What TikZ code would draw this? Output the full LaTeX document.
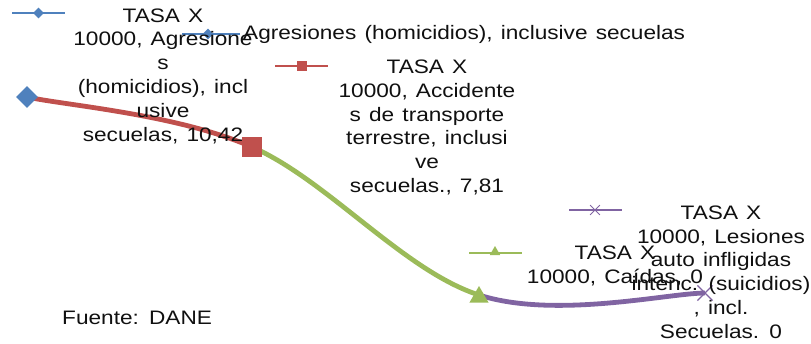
\documentclass[tikz,border=0pt]{standalone}
\usepackage{fontspec}
\setmainfont{Liberation Sans}[FakeStretch=1.16,WordSpace=1.3]
\usepackage{xcolor}
\usetikzlibrary{positioning,shapes.geometric,shapes.misc}
\definecolor{serA}{HTML}{4F81BD}
\definecolor{serB}{HTML}{C0504D}
\definecolor{serC}{HTML}{9BBB59}
\definecolor{serD}{HTML}{8064A2}
\definecolor{lbltext}{HTML}{101010}

\begin{document}
\begin{tikzpicture}[x=1pt,y=-1pt]
\tikzstyle{every node}+=[inner sep=0pt]
\tikzset{
  lbl/.style={align=center, text=lbltext, font=\fontsize{19.5}{23.8}\selectfont},
  keyline/.style={line width=2.6pt},
  seg/.style={line width=4.8pt},
  mdiamond/.style={diamond, fill=serA, minimum size=#1},
  msquare/.style={rectangle, fill=serB, minimum size=#1},
  mtriangle/.style={regular polygon, regular polygon sides=3, fill=serC, minimum size=#1},
  mcross/.style={cross out, draw=serD, line width=1.2pt, minimum size=#1}
}
\useasboundingbox (0,0) rectangle (811,343);
% data points
\coordinate (pA) at (27,97);
\coordinate (pB) at (252,147);
\coordinate (pC) at (479,295);
\coordinate (pD) at (705,293);
% smoothed line, one colour for each segment
\draw [serB, seg] (pA) .. controls +(37.5,8.3) and +(-75.3,-33) .. (pB);
\draw [serC, seg] (pB) .. controls +(75.3,33) and +(-75.5,-24.3) .. (pC);
\draw [serD, seg] (pC) .. controls +(75.5,24.3) and +(-37.7,0.3) .. (pD);
% markers
\node [mdiamond=22pt] at (pA) {};
\node [msquare=20pt] at (pB) {};
\node [mtriangle=22pt, yshift=-2pt] at (pC) {};
\node [mcross=14pt] at (pD) {};
% legend keys
\draw [serA, keyline] (12,13) -- (65,13);
\node [mdiamond=11pt] at (38.5,13) {};
\draw [serA, keyline] (182,34) -- (240,34);
\node [mdiamond=11pt] at (208,34) {};
\draw [serB, keyline] (275,66) -- (328,66);
\node [msquare=10pt] at (302,66) {};
\draw [serC, keyline] (469,253) -- (522,253);
\node [mtriangle=12pt] at (495,252) {};
\draw [serD, keyline] (569,210) -- (622,210);
\node [mcross=9pt, line width=0.8pt] at (595,210) {};
% labels
\node [lbl, anchor=west] (legA) at (243,34) {Agresiones (homicidios), inclusive secuelas};
\node [lbl] (lblA) at (163,76) {TASA X\\10000, Agresione\\s\\(homicidios), incl\\usive\\secuelas, 10,42};
\node [lbl] (lblB) at (427,127.5) {TASA X\\10000, Accidente\\s de transporte\\terrestre, inclusi\\ve\\secuelas., 7,81};
\node [lbl] (lblC) at (615,266) {TASA X\\10000, Caídas, 0};
\node [lbl] (lblD) at (721,272) {TASA X\\10000, Lesiones\\auto infligidas\\intenc. (suicidios)\\, incl.\\Secuelas. 0};
\node [lbl, anchor=west] (src) at (62,318) {Fuente: DANE};
\end{tikzpicture}
\end{document}
